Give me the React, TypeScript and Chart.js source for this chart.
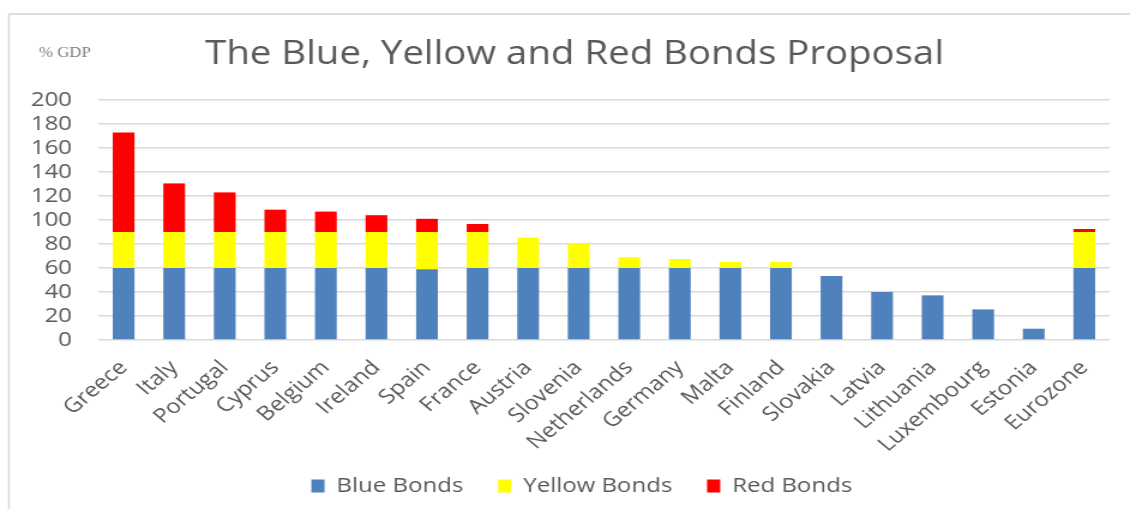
import React, { useEffect, useRef } from "react";
import { Chart, registerables } from "chart.js";

Chart.register(...registerables);

const categories = [
  "Greece", "Italy", "Portugal", "Cyprus", "Belgium", "Ireland", "Spain", "France",
  "Austria", "Slovenia", "Netherlands", "Germany", "Malta", "Finland", "Slovakia",
  "Latvia", "Lithuania", "Luxembourg", "Estonia", "Eurozone",
];
const blueBonds = [60, 60, 60, 60, 60, 60, 59, 60, 60, 60, 60, 60, 60, 60, 53.3, 40, 37.2, 25.5, 9.4, 60];
const yellowBonds = [30, 30, 30, 30, 30, 30, 31, 30, 25.3, 20.8, 9, 7.5, 5, 5, 0, 0, 0, 0, 0, 30];
const redBonds = [83, 40.5, 33, 18.6, 17, 14, 11, 6.7, 0, 0, 0, 0, 0, 0, 0, 0, 0, 0, 0, 2.5];
const yTicks = [0, 20, 40, 60, 80, 100, 120, 140, 160, 180, 200];
const titleText = "The Blue, Yellow and Red Bonds Proposal";
const unitText = "% GDP";

const TEXT = "#595959";
const FONT = '"Open Sans", sans-serif';
// the reference image is horizontally stretched; draw narrower and stretch with CSS
const CANVAS_W = 942;
const CANVAS_H = 509;
const LEGEND_CENTER = 485;

const framePlugin = {
  id: "frame",
  afterLayout(chart: any) {
    const lg = chart.legend;
    if (lg) {
      const dx = LEGEND_CENTER - (lg.left + lg.right) / 2;
      lg.left += dx;
      lg.right += dx;
    }
    // let the rotated category labels run into the empty space above the legend items
    const xs = chart.scales.x;
    if (xs) xs.bottom += 25;
  },
  afterDraw(chart: any) {
    const ctx = chart.ctx;
    ctx.save();
    ctx.strokeStyle = "#d9d9d9";
    ctx.lineWidth = 1.7;
    ctx.strokeRect(7.5, 14, 1300, 700);
    ctx.fillStyle = TEXT;
    ctx.font = `32px ${FONT}`;
    ctx.textBaseline = "alphabetic";
    ctx.textAlign = "center";
    ctx.fillText(titleText, 479, 64);
    ctx.fillStyle = "#7f7f7f";
    ctx.font = '14px "Liberation Serif", serif';
    ctx.textAlign = "left";
    ctx.fillText(unitText, 32.5, 57);
    ctx.restore();
  },
};

export default function App() {
  const ref = useRef<HTMLCanvasElement>(null);
  useEffect(() => {
    const chart = new Chart(ref.current!, {
      type: "bar",
      data: {
        labels: categories,
        datasets: [
          { label: "Blue Bonds", data: blueBonds, backgroundColor: "#4F81BD", borderWidth: 0 },
          { label: "Yellow Bonds", data: yellowBonds, backgroundColor: "#FFFF00", borderWidth: 0 },
          { label: "Red Bonds", data: redBonds, backgroundColor: "#FF0000", borderWidth: 0 },
        ],
      },
      options: {
        responsive: false,
        animation: false,
        devicePixelRatio: 1,
        layout: { padding: { left: 18, right: 17, top: 100, bottom: 3 } },
        datasets: { bar: { barPercentage: 0.5, categoryPercentage: 0.86 } },
        plugins: {
          title: { display: false },
          legend: {
            position: "bottom",
            labels: {
              boxWidth: 11,
              boxHeight: 13,
              padding: 29,
              color: TEXT,
              font: { family: FONT, size: 20 },
            },
          },
          tooltip: { enabled: false },
        },
        scales: {
          x: {
            stacked: true,
            grid: { display: false },
            border: { display: false },
            ticks: {
              color: TEXT,
              font: { family: FONT, size: 20 },
              maxRotation: 45,
              minRotation: 45,
              autoSkip: false,
              padding: 8,
            },
            afterFit: (s: any) => { s.height = 107; },
          },
          y: {
            stacked: true,
            min: 0,
            max: 200,
            afterBuildTicks: (s: any) => { s.ticks = yTicks.map((v) => ({ value: v })); },
            grid: { color: "#d9d9d9", lineWidth: 1.5, drawTicks: false },
            border: { display: false },
            ticks: {
              color: TEXT,
              font: { family: FONT, size: 20 },
              padding: 22,
              autoSkip: false,
            },
            afterFit: (s: any) => { s.width = 64; },
          },
        },
      },
      plugins: [framePlugin],
    });
    return () => chart.destroy();
  }, []);
  return (
    <canvas
      ref={ref}
      width={CANVAS_W}
      height={CANVAS_H}
      style={{ position: "fixed", left: 0, top: 0, width: "1130px", height: `${CANVAS_H}px`, background: "#fff" }}
    />
  );
}
